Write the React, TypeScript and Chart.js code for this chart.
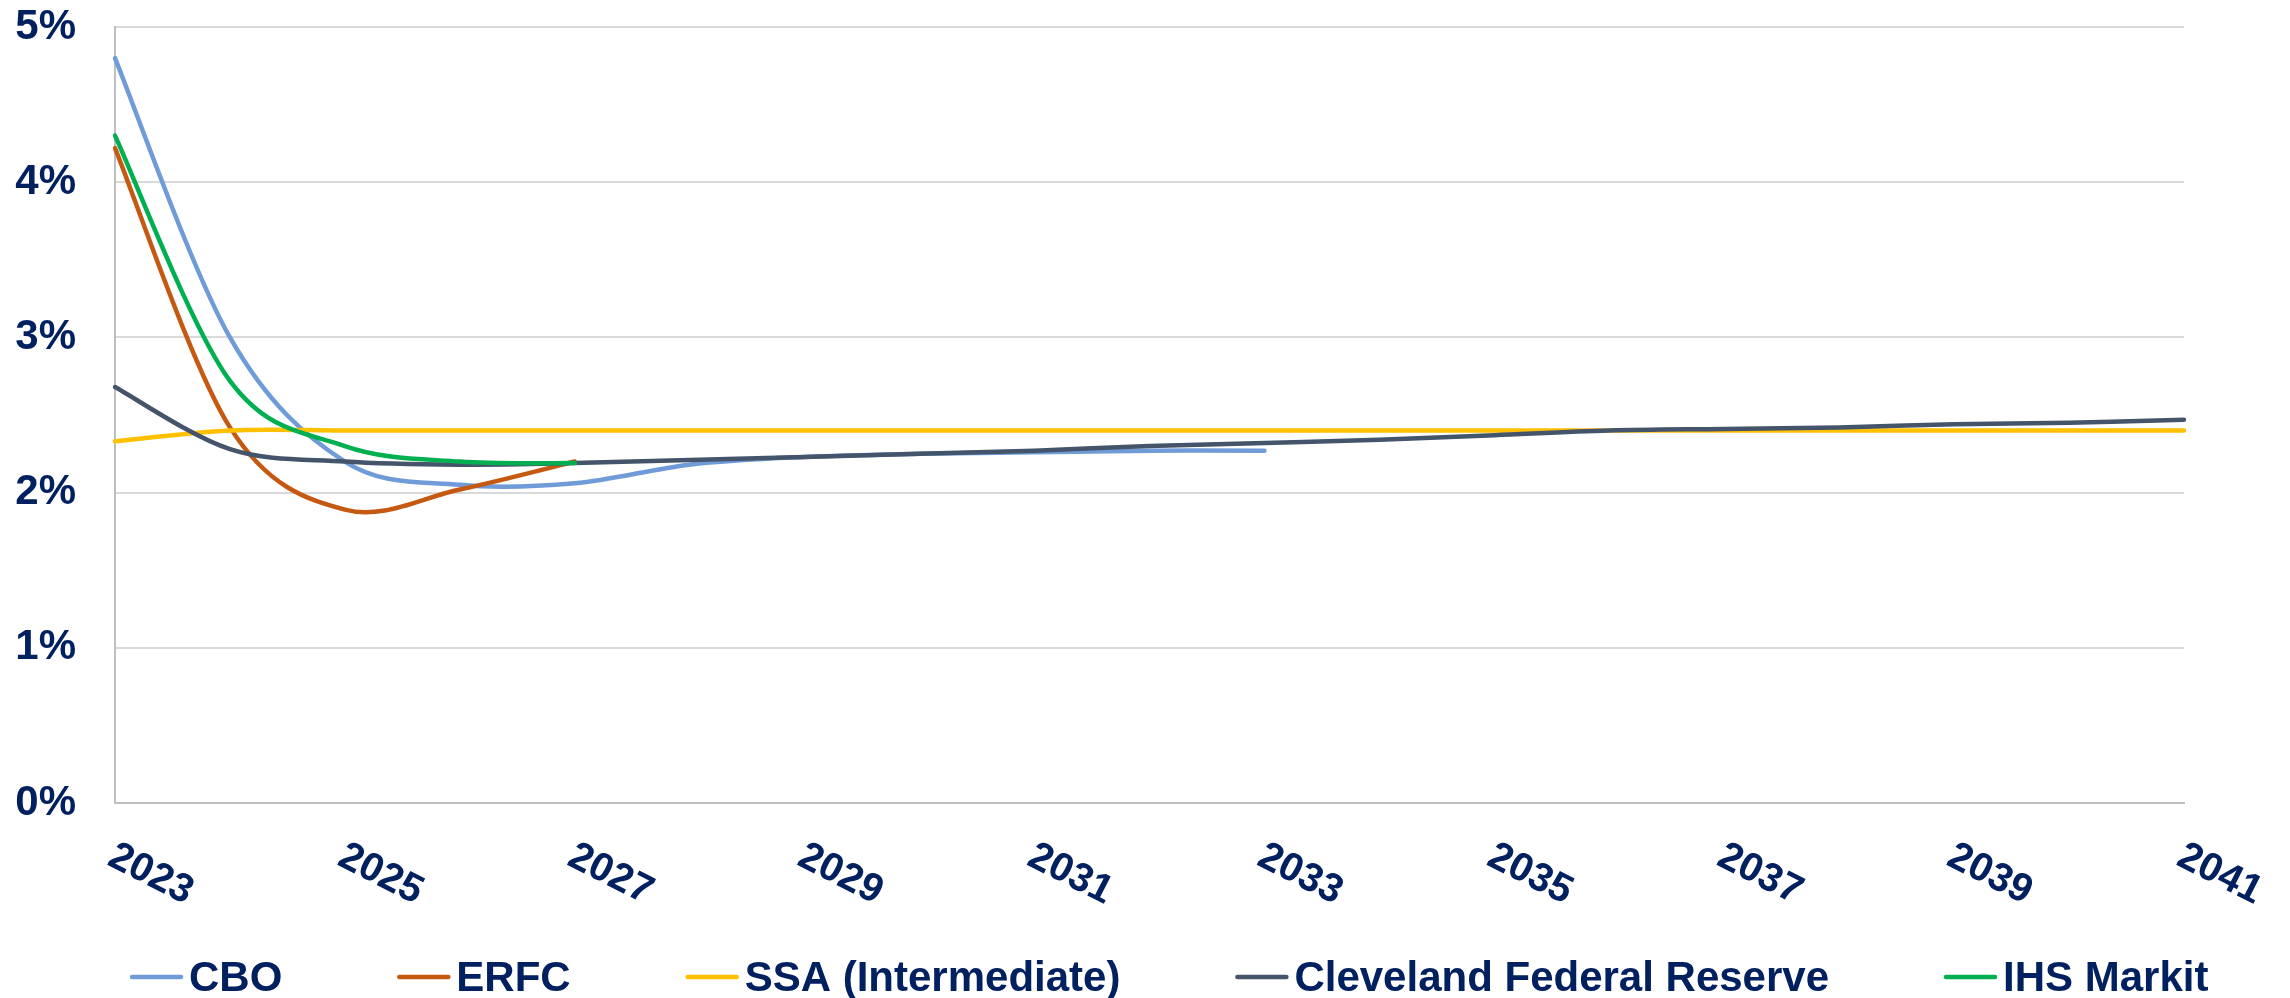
import React, { useEffect, useRef } from "react";
import { Chart, registerables } from "chart.js";

Chart.register(...registerables);

// ---------- data ----------
const years = [
  "2023", "2024", "2025", "2026", "2027", "2028", "2029", "2030", "2031", "2032",
  "2033", "2034", "2035", "2036", "2037", "2038", "2039", "2040", "2041",
];
const tickYears = ["2023", "2025", "2027", "2029", "2031", "2033", "2035", "2037", "2039", "2041"];

const seriesNames = ["CBO", "ERFC", "SSA (Intermediate)", "Cleveland Federal Reserve", "IHS Markit"];
const seriesColors = ["#6F9BD8", "#C65911", "#FFC000", "#44546A", "#00B050"];

const cbo = [4.8, 3.0, 2.2, 2.05, 2.06, 2.18, 2.23, 2.25, 2.26, 2.27, 2.27, null, null, null, null, null, null, null, null];
const erfc = [4.22, 2.42, 1.89, 2.02, 2.2, null, null, null, null, null, null, null, null, null, null, null, null, null, null];
const ssa = [2.33, 2.4, 2.4, 2.4, 2.4, 2.4, 2.4, 2.4, 2.4, 2.4, 2.4, 2.4, 2.4, 2.4, 2.4, 2.4, 2.4, 2.4, 2.4];
const cleveland = [2.68, 2.28, 2.2, 2.18, 2.19, 2.21, 2.23, 2.25, 2.27, 2.3, 2.32, 2.34, 2.37, 2.4, 2.41, 2.42, 2.44, 2.45, 2.47];
const ihs = [4.3, 2.72, 2.3, 2.2, 2.19, null, null, null, null, null, null, null, null, null, null, null, null, null, null];

const seriesValues = [cbo, erfc, ssa, cleveland, ihs];

const TEXT = "#002060";
const FONT = '"Liberation Sans", Arial, sans-serif';

// Excel-like smoothing: uniform Catmull-Rom control points from the library's own point positions
const smoothPlugin = {
  id: "excelSmooth",
  beforeDatasetsDraw(chart: any) {
    chart.getSortedVisibleDatasetMetas().forEach((meta: any) => {
      const pts = (meta.data || []).filter((p: any) => !p.skip);
      for (let i = 0; i < pts.length; i++) {
        const p = pts[i];
        const prev = pts[i - 1] || p;
        const next = pts[i + 1] || p;
        const dx = (next.x - prev.x) / 6;
        const dy = (next.y - prev.y) / 6;
        p.cp1x = p.x - dx;
        p.cp1y = p.y - dy;
        p.cp2x = p.x + dx;
        p.cp2y = p.y + dy;
      }
      if (meta.dataset) meta.dataset._pointsUpdated = true;
    });
  },
};

const xLabelPlugin = {
  id: "rotatedXLabels",
  afterDraw(chart: any) {
    const ctx = chart.ctx;
    const xs = chart.scales.x;
    ctx.save();
    ctx.font = `bold 40px ${FONT}`;
    ctx.fillStyle = TEXT;
    ctx.textAlign = "left";
    ctx.textBaseline = "alphabetic";
    years.forEach((y, i) => {
      if (!tickYears.includes(y)) return;
      const px = xs.getPixelForValue(i);
      ctx.save();
      ctx.translate(px - 9, chart.chartArea.bottom + 61);
      ctx.rotate((27 * Math.PI) / 180);
      ctx.fillText(y, 0, 0);
      ctx.restore();
    });
    ctx.restore();
  },
};

const legendPlugin = {
  id: "bottomLegend",
  afterDraw(chart: any) {
    const ctx = chart.ctx;
    ctx.save();
    ctx.font = `bold 42px ${FONT}`;
    ctx.fillStyle = TEXT;
    ctx.textAlign = "left";
    ctx.textBaseline = "alphabetic";
    let x = 130;
    const yLine = 977;
    seriesNames.forEach((name, i) => {
      ctx.strokeStyle = seriesColors[i];
      ctx.lineWidth = 4.5;
      ctx.lineCap = "round";
      ctx.beginPath();
      ctx.moveTo(x + 2, yLine);
      ctx.lineTo(x + 51, yLine);
      ctx.stroke();
      ctx.fillText(name, x + 59, 991);
      x += 59 + ctx.measureText(name).width + 115;
    });
    ctx.restore();
  },
};

export default function App() {
  const canvasRef = useRef<HTMLCanvasElement | null>(null);

  useEffect(() => {
    if (!canvasRef.current) return;
    const chart = new Chart(canvasRef.current, {
      type: "line",
      data: {
        labels: years,
        datasets: seriesNames.map((name, i) => ({
          label: name,
          data: seriesValues[i],
          borderColor: seriesColors[i],
          backgroundColor: seriesColors[i],
          borderWidth: 4.5,
          borderCapStyle: "round",
          borderJoinStyle: "round",
          pointRadius: 0,
          pointHoverRadius: 0,
          tension: 0.4,
          fill: false,
          spanGaps: false,
          order: seriesNames.length - i,
        })),
      },
      options: {
        responsive: false,
        animation: false,
        events: [],
        layout: { padding: { left: 0, top: 27, right: 106, bottom: 0 } },
        plugins: {
          legend: { display: false },
          tooltip: { enabled: false },
          title: { display: false },
        },
        scales: {
          x: {
            type: "category",
            offset: false,
            grid: { display: false, drawTicks: false },
            border: { display: true, color: "#BFBFBF", width: 2 },
            ticks: { display: false },
            afterFit: (s: any) => {
              s.height = 195;
            },
          },
          y: {
            min: 0,
            max: 5,
            ticks: {
              stepSize: 1,
              padding: 39,
              color: TEXT,
              font: { family: FONT, size: 42, weight: "bold" },
              callback: (v: any) => `${v}%`,
            },
            grid: { color: "#D9D9D9", lineWidth: 2, drawTicks: false },
            border: { display: true, color: "#BFBFBF", width: 2 },
            afterFit: (s: any) => {
              s.width = 115;
              s.paddingTop = 0;
              s.paddingBottom = 0;
            },
          },
        },
      },
      plugins: [smoothPlugin, xLabelPlugin, legendPlugin],
    });
    return () => chart.destroy();
  }, []);

  return (
    <div style={{ position: "fixed", left: 0, top: 0, width: 2290, height: 998, background: "#fff" }}>
      <canvas ref={canvasRef} width={2290} height={998} style={{ display: "block" }} />
    </div>
  );
}
